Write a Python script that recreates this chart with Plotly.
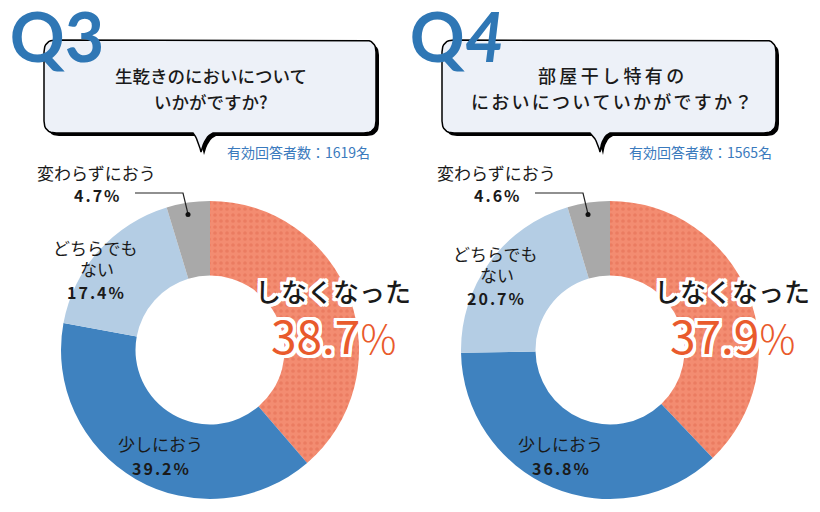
import plotly.graph_objects as go

# ---- data ----
categories = ["しなくなった", "少しにおう", "どちらでもない", "変わらずにおう"]
q3_values = [38.7, 39.2, 17.4, 4.7]
q4_values = [37.9, 36.8, 20.7, 4.6]
q3_question = ["生乾きのにおいについて", "いかがですか?"]
q4_question = ["部屋干し特有の", "においについていかがですか？"]
q3_n = 1619
q4_n = 1565

slice_colors = ["#f38c71", "#3f82bf", "#b4cde4", "#a9a9a9"]
FONT = "Noto Sans CJK JP"

# page has an 8px body margin: work in screen pixels
OFF = 8
W, H = 804, 496

def dom_x(a, b):
    return [(a - OFF) / W, (b - OFF) / W]

def dom_y(top, bot):
    return [1 - (bot - OFF) / H, 1 - (top - OFF) / H]

fig = go.Figure()

def quad(p0, p1, p2, n=8):
    pts = []
    for i in range(1, n + 1):
        t = i / n
        x = (1 - t) ** 2 * p0[0] + 2 * (1 - t) * t * p1[0] + t * t * p2[0]
        y = (1 - t) ** 2 * p0[1] + 2 * (1 - t) * t * p1[1] + t * t * p2[1]
        pts.append((x, y))
    return pts

def bubble_pts(L, R, T, B, tx1, tx2, tipx, tipy, dx=0, dy=0, r=12):
    L, R, T, B = L + dx, R + dx, T + dy, B + dy
    tx1, tx2, tipx, tipy = tx1 + dx, tx2 + dx, tipx + dx, tipy + dy
    pts = [(L + r, T), (R - r, T)]
    pts += quad((R - r, T), (R, T), (R, T + r))
    pts.append((R, B - r))
    pts += quad((R, B - r), (R, B), (R - r, B))
    pts.append((tx2, B))
    pts += quad((tx2, B), (tx2 - 8, B + 3), (tipx, tipy))
    pts += quad((tipx, tipy), (tipx - 3, B + 6), (tx1, B))
    pts.append((L + r, B))
    pts += quad((L + r, B), (L, B), (L, B - r))
    pts.append((L, T + r))
    pts += quad((L, T + r), (L, T), (L + r, T))
    return [p[0] for p in pts], [p[1] for p in pts]

for (L, R, tx1, tx2, tipx) in [(44, 376, 193, 213, 201), (442, 776, 590, 610, 600)]:
    xs, ys = bubble_pts(L, R, 40, 133, tx1, tx2, tipx, 152, dx=3, dy=3)
    fig.add_trace(go.Scatter(x=xs, y=ys, mode="lines", fill="toself",
                             fillcolor="black", line=dict(width=0, color="black"),
                             hoverinfo="skip", showlegend=False))
    xs, ys = bubble_pts(L, R, 40, 133, tx1, tx2, tipx, 152)
    fig.add_trace(go.Scatter(x=xs, y=ys, mode="lines", fill="toself",
                             fillcolor="#edf1f8", line=dict(width=1.5, color="black"),
                             hoverinfo="skip", showlegend=False))

# Big Q labels, drawn over the bubbles
fig.add_trace(go.Scatter(
    x=[57, 457], y=[45, 45], mode="text", text=["Q3", "Q<i>4</i>"],
    textfont=dict(family="Lato", size=68, color="#2f77b5", weight="bold"),
    hoverinfo="skip", showlegend=False, cliponaxis=False))

def add_pie(values, x0, x1, y0, y1):
    fig.add_trace(go.Pie(
        labels=categories, values=values, sort=False, direction="clockwise",
        rotation=0, hole=0.5, textinfo="none", hoverinfo="label+percent",
        showlegend=False,
        marker=dict(colors=slice_colors, line=dict(width=0),
                    pattern=dict(shape=[".", "", "", ""], fgcolor="#e46c52",
                                 size=6, solidity=0.3, fillmode="overlay")),
        domain=dict(x=dom_x(x0, x1), y=dom_y(y0, y1)),
    ))

add_pie(q3_values, 60, 360, 201, 499)
add_pie(q4_values, 460, 760, 201, 499)

fig.update_layout(
    width=W, height=H, margin=dict(l=0, r=0, t=0, b=0),
    paper_bgcolor="white", plot_bgcolor="rgba(0,0,0,0)",
    xaxis=dict(range=[OFF, OFF + W], visible=False, domain=[0, 1], fixedrange=True),
    yaxis=dict(range=[OFF + H, OFF], visible=False, domain=[0, 1], fixedrange=True),
    font=dict(family=FONT),
)

shapes = []
for ox in [0, 400]:
    shapes.append(dict(type="path", xref="x", yref="y", layer="above",
                       path=f"M {135+ox},193 L {183+ox},193 L {188+ox},214",
                       line=dict(color="#222", width=1.2)))
    shapes.append(dict(type="circle", xref="x", yref="y", layer="above",
                       x0=185.5 + ox, x1=190.5 + ox, y0=212, y1=217,
                       fillcolor="#111", line=dict(width=0)))
fig.update_layout(shapes=shapes)

def ann(x, y, text, size, color="#1a1a1a", weight=None, shadow=None):
    f = dict(family=FONT, size=size, color=color)
    if shadow:
        f["shadow"] = shadow
    if weight:
        f["weight"] = weight
    fig.add_annotation(x=x, y=y, xref="x", yref="y", text=text, showarrow=False,
                       font=f, xanchor="center", yanchor="middle")

outline = ", ".join(f"{a}px {b}px 0 #fff" for a in (-3, -2, 0, 2, 3) for b in (-3, -2, 0, 2, 3))

def spaced(s, n=1):
    return ("\u200a" * n).join(s)

# Question texts
ann(211, 75, q3_question[0], 17.5, weight=500)
ann(211, 101, q3_question[1], 17.5, weight=500)
ann(611, 75, spaced(q4_question[0], 3), 18, weight=500)
ann(611, 101, spaced(q4_question[1], 2), 18, weight=500)

ann(298, 152, f"有効回答者数：{q3_n}名", 14, color="#3a7abd")
ann(700, 152, f"有効回答者数：{q4_n}名", 14, color="#3a7abd")

def labels(ox, vals, lab2y):
    ann(96 + ox, 172, categories[3], 17)
    ann(97 + ox, 195, spaced(f"{vals[3]}%", 2), 16, weight="bold")
    ann(95 + ox, 247 + lab2y, "どちらでも", 17)
    ann(97 + ox, 268 + lab2y, "ない", 17)
    ann(95 + ox, 292 + lab2y, spaced(f"{vals[2]}%", 2), 16, weight="bold")
    ann(162 + ox - 2, 443, categories[1], 17)
    ann(162 + ox - 2, 468, spaced(f"{vals[1]}%", 2), 16, weight="bold")

labels(0, q3_values, 0)
labels(400, q4_values, 6)

# Highlight label
for cx, v in [(333, q3_values[0]), (732, q4_values[0])]:
    ann(cx, 290, categories[0], 26, weight=500, shadow=outline)
    ann(cx, 334, f"{v}<span style='font-size:40px;font-weight:300'>%</span>", 46,
        color="#e95a2c", shadow=outline)

fig.write_html("out.html")
